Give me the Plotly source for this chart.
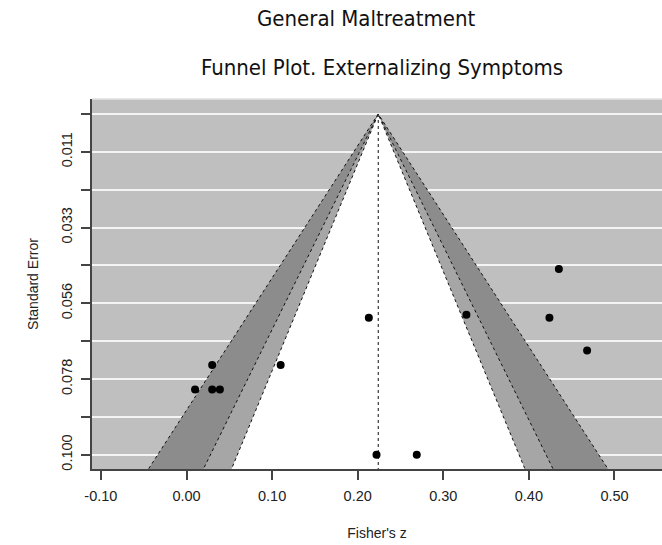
import plotly.graph_objects as go

# ---- data ----
fisher_z = [0.030, 0.010, 0.030, 0.039, 0.110, 0.213, 0.222, 0.269, 0.327, 0.424, 0.435, 0.468]
std_err = [0.0737, 0.0809, 0.0809, 0.0809, 0.0737, 0.0598, 0.1000, 0.1000, 0.0589, 0.0598, 0.0455, 0.0694]
center_est = 0.224
contour_z = [2.576, 1.960, 1.645]          # 99%, 95%, 90% contours
contour_fill = ["#8c8c8c", "#a6a6a6", "#ffffff"]
funnel_se_max = 0.11

x_tickvals = [-0.10, 0.00, 0.10, 0.20, 0.30, 0.40, 0.50]
x_ticktext = ["-0.10", "0.00", "0.10", "0.20", "0.30", "0.40", "0.50"]
y_tickvals = [0.0, 0.01111, 0.02222, 0.03333, 0.04444, 0.05556, 0.06667, 0.07778, 0.08889, 0.1]
y_ticktext = ["", "0.011", "", "0.033", "", "0.056", "", "0.078", "", "0.100"]

title1 = "General Maltreatment"
title2 = "Funnel Plot. Externalizing Symptoms"

fig = go.Figure()

for z, col in zip(contour_z, contour_fill):
    half = z * funnel_se_max
    fig.add_trace(go.Scatter(
        x=[center_est - half, center_est, center_est + half],
        y=[funnel_se_max, 0, funnel_se_max],
        mode="lines", fill="toself", fillcolor=col,
        line=dict(color="#111", width=1, dash="dot"),
        hoverinfo="skip", showlegend=False,
    ))

fig.add_trace(go.Scatter(
    x=[center_est, center_est], y=[0, funnel_se_max], mode="lines",
    line=dict(color="#111", width=1, dash="dot"),
    hoverinfo="skip", showlegend=False,
))

fig.add_trace(go.Scatter(
    x=fisher_z, y=std_err, mode="markers",
    marker=dict(color="black", size=8),
    showlegend=False,
))

axis_font = dict(family="Liberation Sans, Arial, sans-serif", size=14.5, color="#222")
title_font = dict(family="Liberation Sans Narrow, DejaVu Sans Condensed, Lato, sans-serif", size=22, color="#111")

fig.update_layout(
    width=662, height=545,
    margin=dict(l=92, r=0, t=99, b=76),
    paper_bgcolor="white", plot_bgcolor="#bfbfbf",
    showlegend=False,
    xaxis=dict(
        range=[-0.1104, 0.5555], tickvals=x_tickvals, ticktext=x_ticktext,
        showgrid=False, zeroline=False, showline=True, linecolor="#444", linewidth=1.5,
        ticks="outside", ticklen=9, tickcolor="#444", tickwidth=1.5,
        tickfont=axis_font, ticklabelstandoff=4,
        title=dict(text="Fisher's z", font=dict(family="Liberation Sans, Arial, sans-serif", size=14, color="#222"), standoff=25),
    ),
    yaxis=dict(
        range=[0.1042, -0.0044], tickvals=y_tickvals, ticktext=y_ticktext,
        showgrid=True, gridcolor="#f4f4f4", gridwidth=2,
        zeroline=False, showline=True, linecolor="#444", linewidth=1.5,
        ticks="outside", ticklen=9, tickcolor="#444", tickwidth=1.5,
        tickangle=-90, tickfont=axis_font, ticklabelstandoff=3,
        title=dict(text="Standard Error", font=dict(family="Liberation Sans, Arial, sans-serif", size=14, color="#222"), standoff=18),
    ),
    shapes=[dict(type="line", xref="paper", yref="paper", x0=0, x1=1, y0=1, y1=1,
                 line=dict(color="#e2e2e2", width=1.5))],
    annotations=[
        dict(text=title1, xref="paper", yref="paper", x=0.4807, y=1.2189, xanchor="center", yanchor="middle",
             showarrow=False, font=title_font),
        dict(text=title2, xref="paper", yref="paper", x=0.5088, y=1.0851, xanchor="center", yanchor="middle",
             showarrow=False, font=title_font),
    ],
)

fig.write_html("out.html")
